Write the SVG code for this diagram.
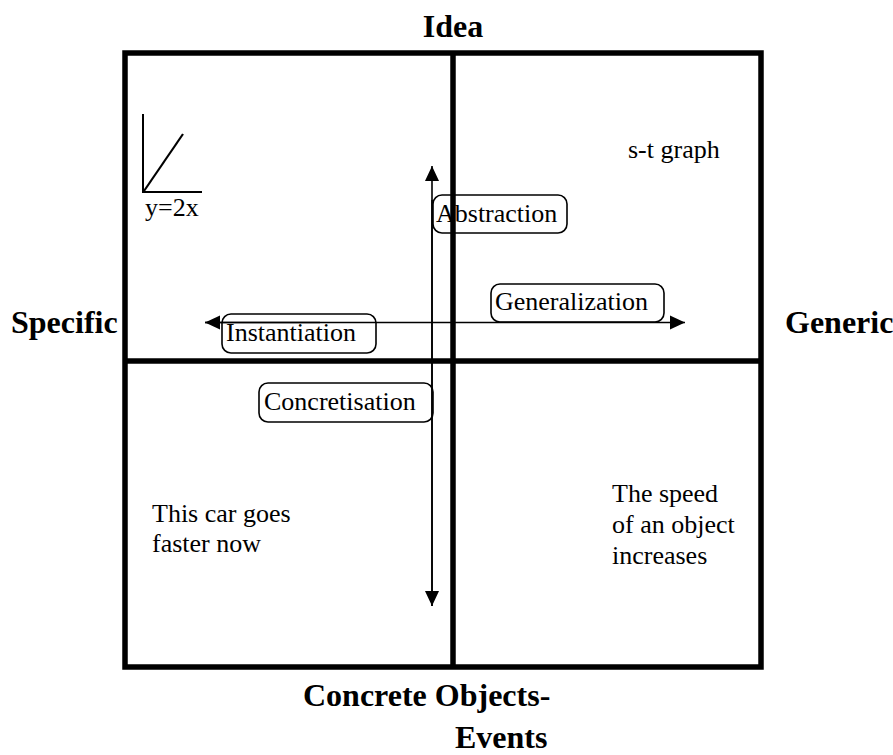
<svg xmlns="http://www.w3.org/2000/svg" width="893" height="755" viewBox="0 0 893 755">
<style>
.frame{fill:none;stroke:#000;stroke-width:5.5}
.conn{fill:none;stroke:#000;stroke-width:1.6}
.box{fill:none;stroke:#000;stroke-width:1.6}
.t{font-family:"Liberation Serif","Times New Roman",serif;font-size:26px;fill:#000}
.b{font-family:"Liberation Serif","Times New Roman",serif;font-size:32px;font-weight:bold;fill:#000}
</style>
<defs>
<marker id="ah" markerUnits="userSpaceOnUse" markerWidth="16" markerHeight="16" viewBox="0 0 16 16" refX="15" refY="8" orient="auto">
<path d="M0,1 L15,8 L0,15 Z" fill="#000"/>
</marker>
</defs>
<rect width="893" height="755" fill="#fff"/>
<g id="frame">
<rect class="frame" x="125" y="53" width="636" height="614"/>
<line class="frame" x1="453" y1="53" x2="453" y2="667"/>
<line class="frame" x1="125" y1="361" x2="761" y2="361"/>
</g>
<g id="axis-labels">
<text class="b" x="453" y="37" text-anchor="middle">Idea</text>
<text class="b" x="11" y="333">Specific</text>
<text class="b" x="785" y="333">Generic</text>
<text class="b" x="303" y="706">Concrete Objects-</text>
<text class="b" x="455" y="748">Events</text>
</g>
<g id="connectors">
<line class="conn" x1="432" y1="606" x2="432" y2="166" marker-end="url(#ah)"/>
<line class="conn" x1="432" y1="200" x2="432" y2="606" marker-end="url(#ah)"/>
<line class="conn" x1="320" y1="322.5" x2="205" y2="322.5" marker-end="url(#ah)"/>
<line class="conn" x1="205" y1="322.5" x2="685" y2="322.5" marker-end="url(#ah)"/>
</g>
<g id="graph">
<path d="M143,114 L143,192 L202,192" fill="none" stroke="#000" stroke-width="2"/>
<line x1="144" y1="191" x2="183" y2="134" stroke="#000" stroke-width="2.2"/>
<text class="t" x="145" y="216">y=2x</text>
</g>
<g id="abstraction">
<rect class="box" x="433" y="195" width="134" height="38" rx="9"/>
<text class="t" x="436" y="222">Abstraction</text>
</g>
<g id="generalization">
<rect class="box" x="491" y="284" width="173" height="38" rx="9"/>
<text class="t" x="495" y="310">Generalization</text>
</g>
<g id="instantiation">
<rect class="box" x="222" y="314" width="154" height="39" rx="9"/>
<text class="t" x="226" y="341">Instantiation</text>
</g>
<g id="concretisation">
<rect class="box" x="259" y="383" width="174" height="39" rx="9"/>
<text class="t" x="264" y="410">Concretisation</text>
</g>
<g id="st-graph">
<text class="t" x="628" y="158">s-t graph</text>
</g>
<g id="specific-example">
<text class="t" x="152" y="522">This car goes</text>
<text class="t" x="152" y="552">faster now</text>
</g>
<g id="generic-example">
<text class="t" x="612" y="502">The speed</text>
<text class="t" x="612" y="533">of an object</text>
<text class="t" x="612" y="564">increases</text>
</g>
</svg>
